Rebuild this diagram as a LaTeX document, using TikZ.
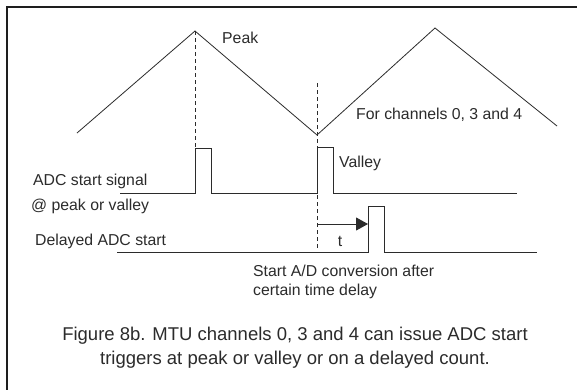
\documentclass[tikz,border=0pt]{standalone}
\usepackage{fontspec}
\setmainfont{Liberation Sans}
\usetikzlibrary{arrows.meta, calc}
\definecolor{figink}{HTML}{2B2B2B}
\definecolor{figbg}{HTML}{D6DDE7}
\definecolor{figframe}{HTML}{1E1E1E}

\begin{document}
\begin{tikzpicture}[
    x=1pt, y=-1pt,
    wave/.style={line width=0.8pt, draw=figink},
    sig/.style={line width=0.9pt, draw=figink},
    guide/.style={line width=0.8pt, draw=figink, dash pattern=on 4pt off 3pt},
    arr/.style={-{Triangle[length=12pt, width=13pt]}, line width=0.9pt, draw=figink},
    lbl/.style={anchor=base west, inner sep=0pt, text=figink, align=left,
                font=\fontsize{15.8}{18.6}\selectfont},
    caption/.style={anchor=base, inner sep=0pt, align=center, text=figink,
                    font=\fontsize{18.5}{23.3}\selectfont}
  ]
    \useasboundingbox (0,0) rectangle (577,389);
    \clip (0,0) rectangle (577,389);
    \shade[top color=white, middle color=figbg, bottom color=white,
           shading angle=45] (0,0) rectangle (577,389);
    \draw[line width=2pt, draw=figframe] (7,7) rectangle (600,400);

    % triangle carrier
    \coordinate (w0) at (77,133);
    \coordinate (pk1) at (195,31);
    \coordinate (vl) at (317,135);
    \coordinate (pk2) at (435,28);
    \coordinate (w4) at (557,126);
    \draw[wave] (w0) -- (pk1) -- (vl) -- (pk2) -- (w4);

    % ADC start at peak / valley
    \coordinate (adc-l) at (120,193);
    \coordinate (adc-r) at (517,193);
    \draw[sig] (adc-l) -- (adc-l -| pk1) -- ++(0,-45) -- ++(16,0) -- ++(0,45)
      -- (adc-l -| vl) -- ++(0,-46) -- ++(16,0) -- ++(0,46) -- (adc-r);

    % delayed start
    \coordinate (dly-l) at (117,252);
    \coordinate (dly-up) at (368,252);
    \coordinate (dly-r) at (537,252);
    \draw[sig] (dly-l) -- (dly-up) -- ++(0,-46) -- ++(16,0) -- ++(0,46) -- (dly-r);

    % markers
    \coordinate (vmark) at (317,83);
    \coordinate (vend) at (317,250);
    \draw[guide] (pk1) -- (pk1 |- adc-l);
    \draw[guide] (vmark) -- (vend);
    \coordinate (tzero) at (317,224);
    \draw[arr] (tzero) -- (tzero -| dly-up);

    % labels
    \node[lbl] (peak) at (222,43) {Peak};
    \node[lbl] (chan) at (356,119) {For channels 0, 3 and 4};
    \node[lbl] (valley) at (339,167) {Valley};
    \node[lbl] (adc) at (33,185) {ADC start signal};
    \node[lbl] (adcpv) at (31,210) {@ peak or valley};
    \node[lbl] (dly) at (35,245.7) {Delayed ADC start};
    \node[lbl, anchor=base] (tlbl) at (340,246) {t};
    \node[lbl] (conv) at (253,295.3) {Start A/D conversion after\\certain time delay};
    \node[caption] (cap) at (295,364)
      {Figure 8b. MTU channels 0, 3 and 4 can issue ADC start\\
       triggers at peak or valley or on a delayed count.};
  \end{tikzpicture}
\end{document}
